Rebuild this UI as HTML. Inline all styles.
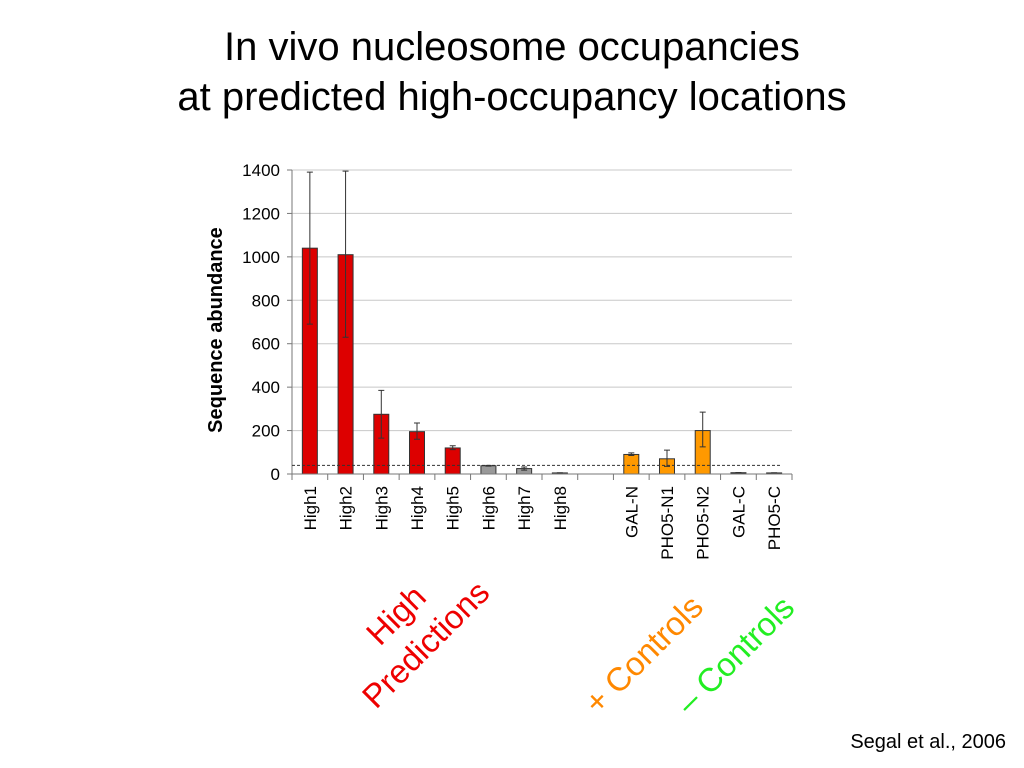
<!DOCTYPE html>
<html><head><meta charset="utf-8"><style>
body{margin:0;background:#fff;font-family:"Liberation Sans",sans-serif}
#wrap{position:relative;width:1024px;height:768px;overflow:hidden}
.t{position:absolute;width:1024px;text-align:center;font-size:40px;color:#000;line-height:46px}
</style></head><body>
<div id="wrap">
<div class="t" style="top:24px">In vivo nucleosome occupancies</div>
<div class="t" style="top:74px">at predicted high-occupancy locations</div>
<svg id="chart" width="1024" height="768" style="position:absolute;left:0;top:0"></svg>
<div style="position:absolute;right:18px;top:731px;font-size:20px">Segal et al., 2006</div>
</div>
<script>
const categories=["High1","High2","High3","High4","High5","High6","High7","High8","","GAL-N","PHO5-N1","PHO5-N2","GAL-C","PHO5-C"];
const values=[1040,1010,275,195,120,38,25,5,null,90,70,200,6,5];
const errLow=[690,630,165,160,112,36,18,4,null,85,35,125,5,4];
const errHigh=[1390,1395,385,235,130,40,32,6,null,97,110,285,7,6];
const groups=["red","red","red","red","red","gray","gray","gray","","orange","orange","orange","black","black"];
const yTicks=[0,200,400,600,800,1000,1200,1400];
const threshold=40;
const colors={red:"#dd0000",gray:"#999999",orange:"#ff9900",black:"#222222"};
const svg=document.getElementById('chart');const NS="http://www.w3.org/2000/svg";
const x0=292,x1=792,yBase=474,yTop=170,yMax=1400;
const slot=(x1-x0)/categories.length;
const Y=v=>yBase-(v/yMax)*(yBase-yTop);
const X=i=>x0+slot*(i+0.5);
function mk(t,a){const e=document.createElementNS(NS,t);for(const k in a)e.setAttribute(k,a[k]);svg.appendChild(e);return e;}
yTicks.forEach(v=>{
 if(v>0){const g=mk('line',{x1:x0,x2:x1,y1:Y(v),y2:Y(v),stroke:'#c8c8c8','stroke-width':1});
 
 }
 const tk=mk('line',{x1:x0-5,x2:x0,y1:Y(v),y2:Y(v),stroke:'#777'});
 
 
 const t=mk('text',{x:x0-12,y:Y(v)+6,'text-anchor':'end','font-size':17,'font-family':'Liberation Sans'});
 t.textContent=v;
 
 
});
const ax=mk('line',{x1:x0,x2:x0,y1:yTop,y2:yBase,stroke:'#777'});


const yt=mk('text',{x:222,y:(yTop+yBase)/2+8,'text-anchor':'middle','font-size':20,'font-weight':'bold','font-family':'Liberation Sans',transform:`rotate(-90 222 ${(yTop+yBase)/2+8})`});
yt.textContent='Sequence abundance';


values.forEach((v,i)=>{
 if(v!==null){
  const w=slot*0.42;
  const b=mk('rect',{x:X(i)-w/2,y:Y(v),width:w,height:yBase-Y(v),fill:colors[groups[i]],stroke:'#333','stroke-width':1});
  
  
  const e=mk('path',{d:`M${X(i)} ${Y(errLow[i])}V${Y(errHigh[i])}M${X(i)-3} ${Y(errLow[i])}H${X(i)+3}M${X(i)-3} ${Y(errHigh[i])}H${X(i)+3}`,stroke:'#333',fill:'none','stroke-width':1});
  
  
 }
 const t=mk('text',{x:X(i)+6,y:yBase+12,'text-anchor':'end','font-size':17,'font-family':'Liberation Sans',transform:`rotate(-90 ${X(i)+6} ${yBase+12})`});
 t.textContent=categories[i];
 
 
});
for(let i=0;i<=categories.length;i++){const tk=mk('line',{x1:x0+slot*i,x2:x0+slot*i,y1:yBase,y2:yBase+6,stroke:'#777'});
 
 }
const dl=mk('line',{x1:x0,x2:x1-10,y1:Y(threshold),y2:Y(threshold),stroke:'#333','stroke-dasharray':'3,2'});


const xa=mk('line',{x1:x0,x2:x1,y1:yBase,y2:yBase,stroke:'#777'});


function lab(txt,x,y,col,name){const t=mk('text',{x:x,y:y,'font-size':33,fill:col,'font-family':'Liberation Sans',transform:`rotate(-45 ${x} ${y})`});t.textContent=txt;
 
 }
lab('High',380,647,'#ee0000','label-high');
lab('Predictions',376,710,'#ee0000','label-predictions');
lab('+ Controls',598,716,'#ff8800','label-positive-controls');
lab('– Controls',690,716,'#22ee22','label-negative-controls');
</script>
</body></html>
